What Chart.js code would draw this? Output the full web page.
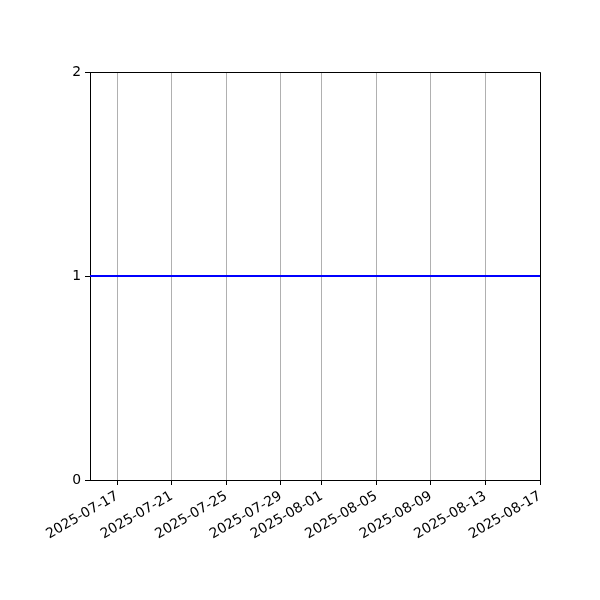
<!DOCTYPE html>
<html>
<head>
<meta charset="utf-8">
<script src="https://cdn.jsdelivr.net/npm/chart.js@4"></script>
<style>
  html, body { margin: 0; padding: 0; background: #fff; }
  #wrap { width: 600px; height: 600px; }
</style>
</head>
<body>
<div id="wrap"><canvas id="chart" width="600" height="600"></canvas></div>
<script>
/* ======================================
   DATA
====================================== */
const dates = [
    "2025-07-15", "2025-07-16", "2025-07-17", "2025-07-18", "2025-07-19",
    "2025-07-20", "2025-07-21", "2025-07-22", "2025-07-23", "2025-07-24",
    "2025-07-25", "2025-07-26", "2025-07-27", "2025-07-28", "2025-07-29",
    "2025-07-30", "2025-07-31", "2025-08-01", "2025-08-02", "2025-08-03",
    "2025-08-04", "2025-08-05", "2025-08-06", "2025-08-07", "2025-08-08",
    "2025-08-09", "2025-08-10", "2025-08-11", "2025-08-12", "2025-08-13",
    "2025-08-14", "2025-08-15", "2025-08-16", "2025-08-17"
];
const values = [
    1, 1, 1, 1, 1, 1, 1, 1, 1, 1,
    1, 1, 1, 1, 1, 1, 1, 1, 1, 1,
    1, 1, 1, 1, 1, 1, 1, 1, 1, 1,
    1, 1, 1, 1
];
const xTickDates = [
    "2025-07-17", "2025-07-21", "2025-07-25", "2025-07-29", "2025-08-01",
    "2025-08-05", "2025-08-09", "2025-08-13", "2025-08-17"
];
const yTicks = [0, 1, 2];

/* days since first date (no date adapter available) */
const DAY = 86400000;
const t0 = Date.parse(dates[0] + "T00:00:00Z");
const toDay = d => (Date.parse(d + "T00:00:00Z") - t0) / DAY;
const fromDay = v => new Date(t0 + v * DAY).toISOString().slice(0, 10);

const points = dates.map((d, i) => ({ x: toDay(d), y: values[i] }));

/* ======================================
   TOP / RIGHT SPINES
====================================== */
const frame = {
    id: "frame",
    afterDatasetsDraw(chart) {
        const { ctx, chartArea: a } = chart;
        ctx.save();
        ctx.strokeStyle = "#000";
        ctx.lineWidth = 1;
        ctx.beginPath();
        ctx.moveTo(a.left, a.top + 0.5);
        ctx.lineTo(a.right + 0.5, a.top + 0.5);
        ctx.lineTo(a.right + 0.5, a.bottom);
        ctx.stroke();
        ctx.restore();
    }
};

Chart.defaults.font.family = "'DejaVu Sans', sans-serif";
Chart.defaults.font.size = 13.9;
Chart.defaults.color = "#000";

new Chart(document.getElementById("chart").getContext("2d"), {
    type: "line",
    data: {
        datasets: [{
            data: points,
            borderColor: "#0000ff",
            borderWidth: 2,
            pointRadius: 0,
            tension: 0
        }]
    },
    options: {
        responsive: false,
        animation: false,
        layout: { padding: { left: 0, top: 72, right: 60, bottom: 0 } },
        plugins: { legend: { display: false }, tooltip: { enabled: false } },
        scales: {
            x: {
                type: "linear",
                min: toDay(dates[0]),
                max: toDay(dates[dates.length - 1]),
                afterBuildTicks: s => { s.ticks = xTickDates.map(d => ({ value: toDay(d) })); },
                afterFit: s => { s.height = 120; s.paddingLeft = 0; s.paddingRight = 0; },
                ticks: {
                    minRotation: 30,
                    maxRotation: 30,
                    padding: 3,
                    callback: v => fromDay(v)
                },
                grid: { color: "#b0b0b0", tickColor: "#000", tickLength: 5, lineWidth: 1 },
                border: { color: "#000", width: 1 }
            },
            y: {
                min: yTicks[0],
                max: yTicks[yTicks.length - 1],
                afterBuildTicks: s => { s.ticks = yTicks.map(v => ({ value: v })); },
                afterFit: s => { s.width = 90; },
                ticks: { padding: 4 },
                grid: { drawOnChartArea: false, tickColor: "#000", tickLength: 5 },
                border: { color: "#000", width: 1 }
            }
        }
    },
    plugins: [frame]
});
</script>
</body>
</html>
